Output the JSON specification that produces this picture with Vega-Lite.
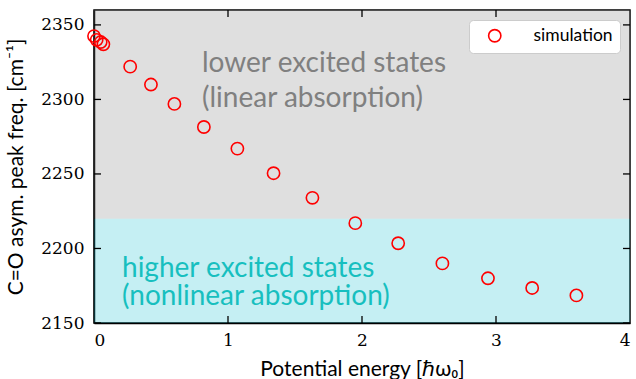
{
  "$schema": "https://vega.github.io/schema/vega-lite/v6.json",
  "width": 536,
  "height": 313,
  "autosize": "none",
  "padding": {"left": 94, "top": 10, "right": 6, "bottom": 56},
  "background": "white",
  "config": {
    "view": {"stroke": "black", "strokeWidth": 1.5},
    "axis": {
      "grid": false,
      "ticks": false,
      "domainColor": "black",
      "domainWidth": 1.5,
      "labelFont": "DejaVu Serif",
      "labelFontSize": 17,
      "labelColor": "black",
      "titleFont": "Lato",
      "titleFontSize": 21,
      "titleFontWeight": "normal",
      "titleColor": "black"
    }
  },
  "datasets": {
    "regions": [
      {"x": 0, "x2": 4, "y": 2220, "y2": 2360, "region": "lower"},
      {"x": 0, "x2": 4, "y": 2150, "y2": 2220, "region": "higher"}
    ],
    "sim": [
      {"energy": 0.0, "freq": 2342.5, "series": "simulation"},
      {"energy": 0.02, "freq": 2340, "series": "simulation"},
      {"energy": 0.05, "freq": 2338.5, "series": "simulation"},
      {"energy": 0.07, "freq": 2337, "series": "simulation"},
      {"energy": 0.27, "freq": 2322, "series": "simulation"},
      {"energy": 0.425, "freq": 2310, "series": "simulation"},
      {"energy": 0.60, "freq": 2297, "series": "simulation"},
      {"energy": 0.82, "freq": 2281.5, "series": "simulation"},
      {"energy": 1.07, "freq": 2267, "series": "simulation"},
      {"energy": 1.34, "freq": 2250.5, "series": "simulation"},
      {"energy": 1.63, "freq": 2234, "series": "simulation"},
      {"energy": 1.95, "freq": 2217, "series": "simulation"},
      {"energy": 2.27, "freq": 2203.5, "series": "simulation"},
      {"energy": 2.60, "freq": 2190, "series": "simulation"},
      {"energy": 2.94, "freq": 2180, "series": "simulation"},
      {"energy": 3.27, "freq": 2173.5, "series": "simulation"},
      {"energy": 3.60, "freq": 2168.5, "series": "simulation"}
    ],
    "labels": [
      {"x": 0.806, "y": 2318.5, "text": "lower excited states", "group": "lower"},
      {"x": 0.806, "y": 2295, "text": "(linear absorption)", "group": "lower"},
      {"x": 0.209, "y": 2181, "text": "higher excited states", "group": "higher"},
      {"x": 0.209, "y": 2162, "text": "(nonlinear absorption)", "group": "higher"}
    ],
    "xticks": [
      {"v": 1, "edge": 2150}, {"v": 2, "edge": 2150}, {"v": 3, "edge": 2150},
      {"v": 1, "edge": 2360}, {"v": 2, "edge": 2360}, {"v": 3, "edge": 2360}
    ],
    "yticks": [
      {"v": 2150, "edge": 0}, {"v": 2200, "edge": 0}, {"v": 2250, "edge": 0}, {"v": 2300, "edge": 0}, {"v": 2350, "edge": 0},
      {"v": 2150, "edge": 4}, {"v": 2200, "edge": 4}, {"v": 2250, "edge": 4}, {"v": 2300, "edge": 4}, {"v": 2350, "edge": 4}
    ]
  },
  "layer": [
    {
      "data": {"name": "regions"},
      "mark": {"type": "rect", "opacity": 0.25},
      "encoding": {
        "x": {"field": "x", "type": "quantitative", "scale": {"domain": [0, 4], "nice": false},
              "axis": {"title": "Potential energy [ℏω₀]", "values": [0, 1, 2, 3, 4], "format": "d", "labelPadding": 9, "titlePadding": 10}},
        "x2": {"field": "x2"},
        "y": {"field": "y", "type": "quantitative", "scale": {"domain": [2150, 2360], "nice": false, "zero": false},
              "axis": {"title": "C=O asym. peak freq. [cm⁻¹]", "values": [2150, 2200, 2250, 2300, 2350], "format": "d", "labelPadding": 10, "titlePadding": 14}},
        "y2": {"field": "y2"},
        "fill": {"field": "region", "type": "nominal", "scale": {"domain": ["lower", "higher"], "range": ["#7f7f7f", "#17becf"]}, "legend": null}
      }
    },
    {
      "data": {"name": "xticks"},
      "mark": {"type": "tick", "orient": "vertical", "size": 14, "thickness": 1.3, "color": "black", "clip": true, "opacity": 1},
      "encoding": {
        "x": {"field": "v", "type": "quantitative", "axis": null},
        "y": {"field": "edge", "type": "quantitative", "axis": null}
      }
    },
    {
      "data": {"name": "yticks"},
      "mark": {"type": "tick", "orient": "horizontal", "size": 14, "thickness": 1.3, "color": "black", "clip": true, "opacity": 1},
      "encoding": {
        "x": {"field": "edge", "type": "quantitative", "axis": null},
        "y": {"field": "v", "type": "quantitative", "axis": null}
      }
    },
    {
      "data": {"name": "sim"},
      "mark": {"type": "point", "shape": "circle", "filled": false, "size": 150, "strokeWidth": 1.6, "opacity": 1},
      "encoding": {
        "x": {"field": "energy", "type": "quantitative", "axis": null},
        "y": {"field": "freq", "type": "quantitative", "axis": null},
        "stroke": {"field": "series", "type": "nominal", "scale": {"domain": ["simulation"], "range": ["#ff0000"]},
          "legend": {"title": null, "orient": "top-right", "offset": 10, "labelFont": "Lato", "labelFontSize": 17.5, "labelColor": "black",
                     "symbolSize": 150, "symbolStrokeWidth": 1.6, "symbolType": "circle", "symbolOffset": 10, "fillColor": "white", "strokeColor": "#cccccc",
                     "cornerRadius": 4, "padding": 7, "labelOffset": 30}}
      }
    },
    {
      "data": {"name": "labels"},
      "mark": {"type": "text", "align": "left", "baseline": "alphabetic", "font": "Lato", "fontSize": 28},
      "encoding": {
        "x": {"field": "x", "type": "quantitative", "axis": null},
        "y": {"field": "y", "type": "quantitative", "axis": null},
        "text": {"field": "text"},
        "color": {"field": "group", "type": "nominal", "scale": {"domain": ["lower", "higher"], "range": ["#808080", "#17bfbf"]}, "legend": null}
      }
    }
  ],
  "resolve": {"axis": {"x": "independent", "y": "independent"}, "scale": {"color": "independent", "fill": "independent", "stroke": "independent"}}
}
